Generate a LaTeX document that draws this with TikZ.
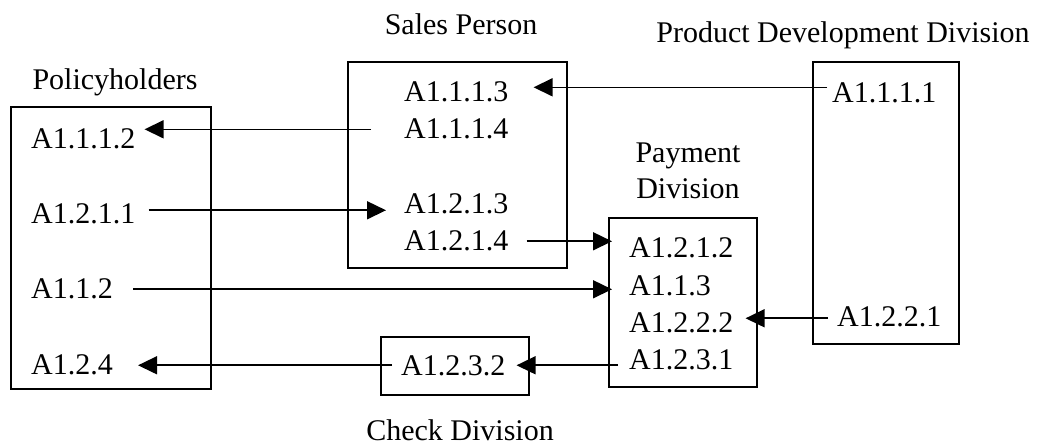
\documentclass[tikz,border=0pt]{standalone}
\usepackage{fontspec}
\setmainfont{Liberation Serif}
\usetikzlibrary{arrows.meta,calc}
\tikzset{
  lbl/.style={inner sep=0pt, font=\fontsize{30}{36}\selectfont},
  item/.style={lbl, anchor=base west},
  title/.style={lbl, anchor=base},
  box/.style={draw, line width=2pt, inner sep=0pt, minimum width=#1},
  arr/.style={line width=1.6pt, -{Triangle[length=19pt,width=18pt]}},
}
\begin{document}
\begin{tikzpicture}[x=1pt,y=-1pt]
\useasboundingbox (0,0) rectangle (1048,446);
% boxes
\node[box=200pt, minimum height=282pt] (polbox) at (111,248) {};
\node[box=219pt, minimum height=206pt] (salbox) at (457.5,165) {};
\node[box=148pt, minimum height=169pt] (paybox) at (683,302.5) {};
\node[box=146pt, minimum height=282pt] (probox) at (886,203) {};
\node[box=148pt, minimum height=58pt] (chkbox) at (455,366) {};
% titles
\node[title] (tpol) at (115,90) {Policyholders};
\node[title] (tsal) at (461,35) {Sales Person};
\node[title] (tpro) at (843,43) {Product Development Division};
\node[title] (tpay1) at (688,163) {Payment};
\node[title] (tpay2) at (688,199) {Division};
\node[title] (tchk) at (460,440) {Check Division};
% items
\node[item] (p1) at (31,149) {A1.1.1.2};
\node[item] (p2) at (31,224) {A1.2.1.1};
\node[item] (p3) at (31,298) {A1.1.2};
\node[item] (p4) at (31,374) {A1.2.4};
\node[item] (s1) at (404,102) {A1.1.1.3};
\node[item] (s2) at (404,139) {A1.1.1.4};
\node[item] (s3) at (404,214) {A1.2.1.3};
\node[item] (s4) at (404,251) {A1.2.1.4};
\node[item] (y1) at (629,257) {A1.2.1.2};
\node[item] (y2) at (629,295) {A1.1.3};
\node[item] (y3) at (629,332) {A1.2.2.2};
\node[item] (y4) at (629,369) {A1.2.3.1};
\node[item] (d1) at (832,103) {A1.1.1.1};
\node[item] (d2) at (837,326) {A1.2.2.1};
\node[item] (c) at (401,375) {A1.2.3.2};
% arrows
\draw[arr] ($(d1.west)+(-5,-6)$) -- ($(s1.east |- d1.west)+(25,-6)$);
\draw[arr] ($(s2.west)+(-33,0)$) -- ($(p1.east |- s2.west)+(9,0)$);
\draw[arr] ($(p2.east)+(13,-4)$) -- ($(s3.west |- p2.east)+(-18,-4)$);
\draw[arr] ($(s4.east)+(18,0)$) -- ($(y1.west |- s4.east)+(-17,0)$);
\draw[arr] ($(p3.east)+(20,1)$) -- ($(y2.west |- p3.east)+(-17,1)$);
\draw[arr] ($(d2.west)+(-9,2)$) -- ($(y3.east |- d2.west)+(12,2)$);
\draw[arr] ($(y4.west)+(-11,6)$) -- ($(c.east |- y4.west)+(11,6)$);
\draw[arr] ($(c.west)+(-9,0)$) -- ($(p4.east |- c.west)+(25,0)$);
\end{tikzpicture}
\end{document}
